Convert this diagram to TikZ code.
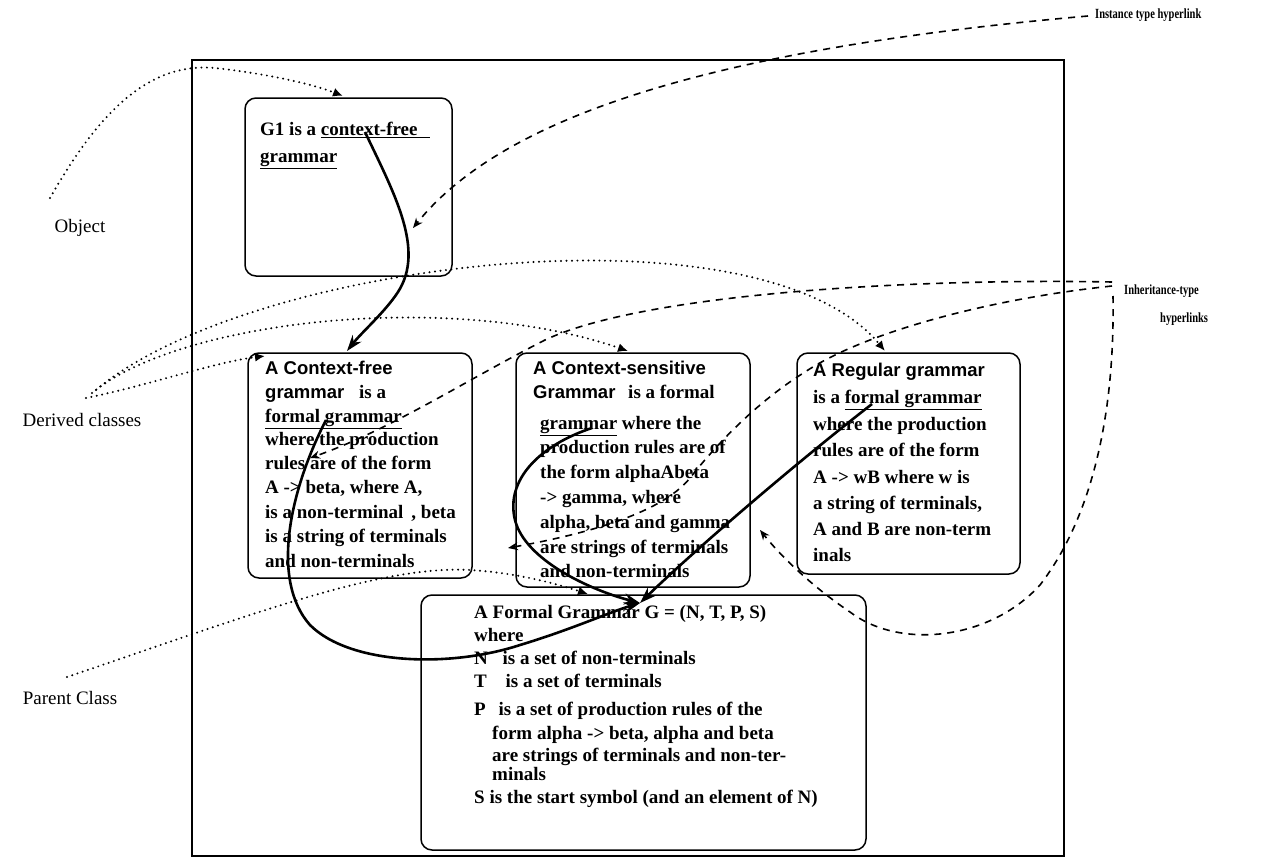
\documentclass[tikz,border=0pt]{standalone}
\usepackage{fontspec}
\setmainfont{Liberation Serif}
\setsansfont{Liberation Sans}
\newfontfamily\narrowserif[FakeStretch=0.75]{Liberation Serif Bold}
\usetikzlibrary{arrows.meta}
\newcommand\clsname[1]{{\sffamily\bfseries\fontsize{18.5}{22}\selectfont #1}}

\begin{document}
\begin{tikzpicture}[x=1pt,y=-1pt,
  frame/.style={draw, line width=1.4pt},
  card/.style={draw, line width=1.5pt, rounded corners=11pt, inner sep=0pt, outer sep=0pt, anchor=north west},
  txt/.style={anchor=west, inner sep=0pt, text height=13pt, text depth=4pt, font=\bfseries\fontsize{19}{24}\selectfont},
  lbl/.style={inner sep=0pt, font=\fontsize{19}{23}\selectfont},
  tag/.style={anchor=west, inner sep=0pt, font=\narrowserif\fontsize{14}{16}\selectfont},
  thickarrow/.style={line width=2.6pt, -{Stealth[length=16pt,width=11pt]}},
  instlink/.style={line width=1.6pt, dash pattern=on 7pt off 6pt, -{Stealth[open,length=10pt,width=8pt]}},
  inhlink/.style={line width=1.6pt, dash pattern=on 7pt off 6pt, -{Stealth[length=10pt,width=8pt]}},
  dotlink/.style={line width=2.2pt, line cap=round, dash pattern=on 0pt off 5.5pt, -{Latex[length=10pt,width=9pt]}}]

\path[fill=white] (0,0) rectangle (1269,859);
\useasboundingbox (0,0) rectangle (1269,859);

% outer frame
\draw[frame] (192,60) rectangle (1064,856);

% boxes
\node[card, minimum width=207pt, minimum height=178pt] (g1) at (245,98) {};
\node[card, minimum width=224pt, minimum height=225pt] (cf) at (248,353) {};
\node[card, minimum width=234pt, minimum height=234pt] (cs) at (516,353) {};
\node[card, minimum width=223pt, minimum height=221pt] (rg) at (797,353) {};
\node[card, minimum width=445pt, minimum height=255pt] (pg) at (421,595) {};

% object text
\node[txt] (g1a) at (260,131) {G1 is a \underline{context-free\,\,\,\,}};
\node[txt] (g1b) at (260,158) {\underline{grammar}};

% context-free grammar
\node[txt] (cf1) at (265,370) {\clsname{A Context-free}};
\node[txt] (cf2) at (265,394) {\clsname{grammar}\hspace{10pt} is a};
\node[txt] (cf3) at (265,418) {\underline{formal grammar}};
\node[txt] (cf4) at (265,441) {where the production};
\node[txt] (cf5) at (265,465) {rules are of the form};
\node[txt] (cf6) at (265,489) {A -> beta, where A,};
\node[txt] (cf7) at (265,514) {is a non-terminal\hspace{8pt}, beta};
\node[txt] (cf8) at (265,538) {is a string of terminals};
\node[txt] (cf9) at (265,563) {and non-terminals};

% context-sensitive grammar
\node[txt] (cs1) at (533,370) {\clsname{A Context-sensitive}};
\node[txt] (cs2) at (533,394) {\clsname{Grammar}\hspace{8pt} is a formal};
\node[txt] (cs3) at (540,425) {\underline{grammar} where the};
\node[txt] (cs4) at (540,449) {production rules are of};
\node[txt] (cs5) at (540,474) {the form alphaAbeta};
\node[txt] (cs6) at (540,499) {-> gamma, where};
\node[txt] (cs7) at (540,524) {alpha, beta and gamma};
\node[txt] (cs8) at (540,549) {are strings of terminals};
\node[txt] (cs9) at (540,573) {and non-terminals};

% regular grammar
\node[txt] (rg1) at (813,372) {\clsname{A Regular grammar}};
\node[txt] (rg2) at (813,399) {is a \underline{formal grammar}};
\node[txt] (rg3) at (813,426) {where the production};
\node[txt] (rg4) at (813,452) {rules are of the form};
\node[txt] (rg5) at (813,479) {A -> wB where w is};
\node[txt] (rg6) at (813,505) {a string of terminals,};
\node[txt] (rg7) at (813,531) {A and B are non-term};
\node[txt] (rg8) at (813,557) {inals};

% formal grammar
\node[txt] (pg1) at (474,614) {A Formal Grammar G = (N, T, P, S)};
\node[txt] (pg2) at (474,637) {where};
\node[txt] (pg3) at (474,660) {N\hspace{10pt} is a set of non-terminals};
\node[txt] (pg4) at (474,683) {T\hspace{14pt} is a set of terminals};
\node[txt] (pg5) at (474,711) {P\hspace{8pt} is a set of production rules of the};
\node[txt] (pg6) at (492,735) {form alpha -> beta, alpha and beta};
\node[txt] (pg7) at (492,757) {are strings of terminals and non-ter-};
\node[txt] (pg8) at (492,776) {minals};
\node[txt] (pg9) at (474,799) {S is the start symbol (and an element of N)};

% side labels
\node[lbl] (objlbl) at (80,228) {Object};
\node[lbl] (derlbl) at (82,420) {Derived classes};
\node[lbl] (parlbl) at (70,698) {Parent Class};
\node[tag] (instlbl) at (1095,15) {Instance type hyperlink};
\node[tag] (inhlbl) at (1124,291) {Inheritance-type};
\node[tag] (inhlbl2) at (1160,319) {hyperlinks};

% connector end points
\coordinate (g1src) at (365,132);
\coordinate (cfin) at (347,351);
\coordinate (cfsrc) at (326,420);
\coordinate (cssrc) at (592,428);
\coordinate (rgsrc) at (872,404);
\coordinate (pgin) at (640,603);
\coordinate (insttail) at (1088,16);
\coordinate (insthit) at (413,228);
\coordinate (inhA) at (1112,282);
\coordinate (inhB) at (1112,286);
\coordinate (inhC) at (1113,296);
\coordinate (cfhit) at (310,458);
\coordinate (cshit) at (508,548);
\coordinate (rghit) at (760,530);
\coordinate (objtip) at (50,198);
\coordinate (objin) at (343,96);
\coordinate (dertipA) at (86,398);
\coordinate (dertipB) at (92,393);
\coordinate (dertipC) at (96,390);
\coordinate (cfcorner) at (265,356);
\coordinate (cstop) at (628,351);
\coordinate (rgtop) at (885,351);
\coordinate (partip) at (67,677);
\coordinate (pgtop) at (588,594);

% instance and inheritance arrows
\draw[thickarrow] (g1src) .. controls (395,195) and (425,250) .. (398,292)
  .. controls (385,312) and (362,332) .. (cfin);
\draw[thickarrow] (cfsrc) .. controls (290,490) and (270,580) .. (310,625)
  .. controls (350,665) and (450,668) .. (520,645)
  .. controls (570,630) and (610,612) .. (pgin);
\draw[thickarrow] (cssrc) .. controls (540,445) and (505,480) .. (515,520)
  .. controls (525,560) and (590,590) .. (pgin);
\draw[thickarrow] (rgsrc) .. controls (800,460) and (700,545) .. (pgin);

% hyperlink annotations
\draw[instlink] (insttail) .. controls (700,50) and (500,120) .. (insthit);
\draw[inhlink] (inhA) .. controls (900,278) and (640,295) .. (545,340)
  .. controls (470,378) and (390,430) .. (cfhit);
\draw[inhlink] (inhB) .. controls (980,300) and (860,335) .. (805,372)
  .. controls (760,400) and (720,440) .. (690,478)
  .. controls (660,515) and (580,535) .. (cshit);
\draw[inhlink] (inhC) .. controls (1115,420) and (1090,520) .. (1040,585)
  .. controls (990,640) and (900,650) .. (850,612)
  .. controls (810,585) and (780,555) .. (rghit);

% class-role annotations
\draw[dotlink] (objtip) .. controls (100,110) and (150,62) .. (215,68)
  .. controls (270,74) and (315,85) .. (objin);
\draw[dotlink] (dertipA) .. controls (150,385) and (215,362) .. (cfcorner);
\draw[dotlink] (dertipB) .. controls (180,320) and (450,290) .. (cstop);
\draw[dotlink] (dertipC) .. controls (250,260) and (760,200) .. (rgtop);
\draw[dotlink] (partip) .. controls (250,615) and (380,565) .. (470,570)
  .. controls (520,573) and (560,585) .. (pgtop);

\end{tikzpicture}
\end{document}
